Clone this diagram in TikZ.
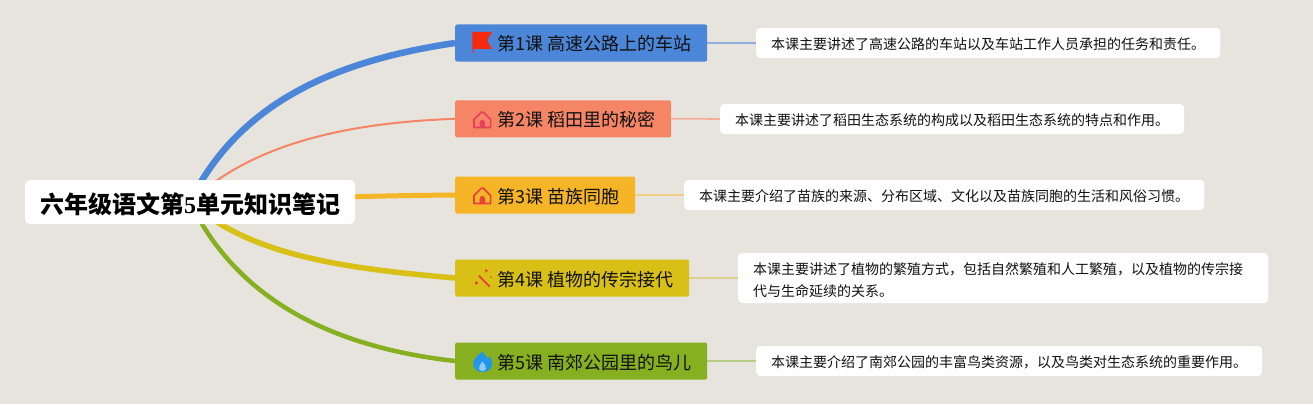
\documentclass[tikz,border=0pt]{standalone}
\usepackage{fontspec}
\setmainfont{Noto Sans CJK SC}
\newfontfamily\titlefive{Liberation Serif}
\pgfdeclarelayer{edgelayer}
\pgfsetlayers{edgelayer,main}
\definecolor{bgc}{HTML}{E6E4DC}
\definecolor{cA}{HTML}{4C86D8}
\definecolor{cB}{HTML}{F58565}
\definecolor{cC}{HTML}{F5B526}
\definecolor{cD}{HTML}{D8C016}
\definecolor{cE}{HTML}{87B020}
\definecolor{lA}{HTML}{8FAEDD}
\definecolor{lB}{HTML}{F2AE98}
\definecolor{lC}{HTML}{EFCF87}
\definecolor{lD}{HTML}{DDD08E}
\definecolor{lE}{HTML}{B7CC85}
\definecolor{ink}{HTML}{111111}
\definecolor{iconred}{HTML}{E8403A}
\definecolor{iconpink}{HTML}{E8405A}
\definecolor{iconflag}{HTML}{F52A0E}
\definecolor{iconblue}{HTML}{2196EA}
\tikzset{
  x=1pt,y=-1pt,
  rootbox/.style={fill=white,rounded corners=5pt,minimum width=330pt,minimum height=44pt,inner sep=0pt,text height=24pt,text depth=2pt,font=\fontsize{24}{28}\selectfont\bfseries,text=black},
  topicbox/.style={fill=#1,rounded corners=2pt,anchor=west,minimum height=37pt,inner xsep=16pt,inner ysep=0pt,text height=17pt,text depth=1pt,font=\fontsize{18}{22}\selectfont,text=ink},
  descbox/.style={fill=white,rounded corners=4pt,anchor=west,minimum height=30pt,inner xsep=15pt,inner ysep=0pt,font=\fontsize{14}{22}\selectfont,text=ink},
  descone/.style={descbox,text height=13pt,text depth=0.4pt},
  sub/.style={draw=#1,line width=1.6pt},
  branch/.style={draw=#1},
  pics/flagicon/.style={code={
    \fill[#1] (-9.7,-11) -- (10,-11) -- (5,-2.8) -- (10,6) -- (-8.7,6) -- (-8.7,10) -- (-9.7,10) -- cycle;
  }},
  pics/houseicon/.style={code={
    \draw[#1,line width=1.7pt,line join=round] (-8.3,-0.5) -- (-8.3,7.7) -- (8.3,7.7) -- (8.3,-0.5) .. controls (5,-3) and (3,-6) .. (1,-7.6) .. controls (0.4,-8.1) and (-0.4,-8.1) .. (-1,-7.6) .. controls (-3,-6) and (-5,-3) .. (-8.3,-0.5) -- cycle;
    \fill[#1] (-2.7,8) -- (-2.7,2.5) .. controls (-2.7,-0.5) and (2.7,-0.5) .. (2.7,2.5) -- (2.7,8) -- cycle;
  }},
  pics/wandicon/.style={code={
    \draw[#1,line width=1.8pt] (-3,-3.3) -- (7.7,7.7);
    \fill[#1] (4.3,-8.3) circle (1.6pt) (-5.7,4) circle (1.8pt) (9,-2) circle (0.9pt);
  }},
  pics/flameicon/.style={code={
    \fill[#1] (0.5,-10.5) .. controls (1,-6.5) and (4.5,-4.5) .. (6,-2.5) .. controls (6.8,-3.5) and (7,-4.5) .. (7.2,-5.5) .. controls (9.5,-2) and (10.3,2) .. (8.8,5.5) .. controls (7,9.5) and (3.5,10.5) .. (0,10.5) .. controls (-4,10.5) and (-8,8.5) .. (-9.2,4) .. controls (-10,0) and (-7.5,-3) .. (-5.5,-5.5) .. controls (-3.5,-7.5) and (-0.8,-8) .. (0.5,-10.5) -- cycle;
    \fill[#1!50!white] (0,0) .. controls (1.8,2.5) and (3.8,4.5) .. (3.5,7) .. controls (3.2,10.3) and (-3.2,10.3) .. (-3.5,7) .. controls (-3.8,4.5) and (-1.8,2.5) .. (0,0) -- cycle;
  }},
}
\begin{document}
\begin{tikzpicture}
\begin{pgfonlayer}{edgelayer}
\path[use as bounding box,fill=bgc] (0,0) rectangle (1313,404);
\end{pgfonlayer}
\node[rootbox] (root) at (190,202) {六年级语文第{\titlefive 5}单元知识笔记};
\node[topicbox=cA] (t1) at (455,43) {\hspace*{26pt}第1课 高速公路上的车站};
\node[topicbox=cB] (t2) at (455,118.8) {\hspace*{26pt}第2课 稻田里的秘密};
\node[topicbox=cC] (t3) at (455,195) {\hspace*{26pt}第3课 苗族同胞};
\node[topicbox=cD] (t4) at (455,278) {\hspace*{26pt}第4课 植物的传宗接代};
\node[topicbox=cE] (t5) at (455,361) {\hspace*{26pt}第5课 南郊公园里的鸟儿};
\node[descone] (d1) at (756,43) {本课主要讲述了高速公路的车站以及车站工作人员承担的任务和责任。};
\node[descone] (d2) at (720,119) {本课主要讲述了稻田生态系统的构成以及稻田生态系统的特点和作用。};
\node[descone] (d3) at (684,195) {本课主要介绍了苗族的来源、分布区域、文化以及苗族同胞的生活和风俗习惯。};
\node[descbox,align=left,minimum height=50pt,text width=500pt] (d4) at (738,278) {\rule{0pt}{16.5pt}本课主要讲述了植物的繁殖方式，包括自然繁殖和人工繁殖，以及植物的传宗接\\代与生命延续的关系。};
\node[descone] (d5) at (756,361) {本课主要介绍了南郊公园的丰富鸟类资源，以及鸟类对生态系统的重要作用。};
\begin{pgfonlayer}{edgelayer}
\draw[branch=cA,line width=6.5pt] (root.center) .. controls (240,100) and (340,60) .. (t1.west);
\draw[branch=cB,line width=2pt] (root.center) .. controls (250,146) and (340,123) .. (t2.west);
\draw[branch=cC,line width=5pt] (root.center) .. controls (250,200) and (340,196) .. (t3.west);
\draw[branch=cD,line width=5.5pt] (root.center) .. controls (250,255) and (340,268) .. (t4.west);
\draw[branch=cE,line width=4.5pt] (root.center) .. controls (240,305) and (340,348) .. (t5.west);
\draw[sub=lA] (t1.east) -- (d1.west);
\draw[sub=lB] (t2.east) -- (d2.west);
\draw[sub=lC] (t3.east) -- (d3.west);
\draw[sub=lD] (t4.east) -- (d4.west);
\draw[sub=lE] (t5.east) -- (d5.west);
\end{pgfonlayer}
\pic at (482,43) {flagicon=iconflag};
\pic at (482.3,119.8) {houseicon=iconpink};
\pic at (482.3,195.8) {houseicon=iconred};
\pic at (482,279) {wandicon=iconred};
\pic at (482.5,361.5) {flameicon=iconblue};
\end{tikzpicture}
\end{document}
